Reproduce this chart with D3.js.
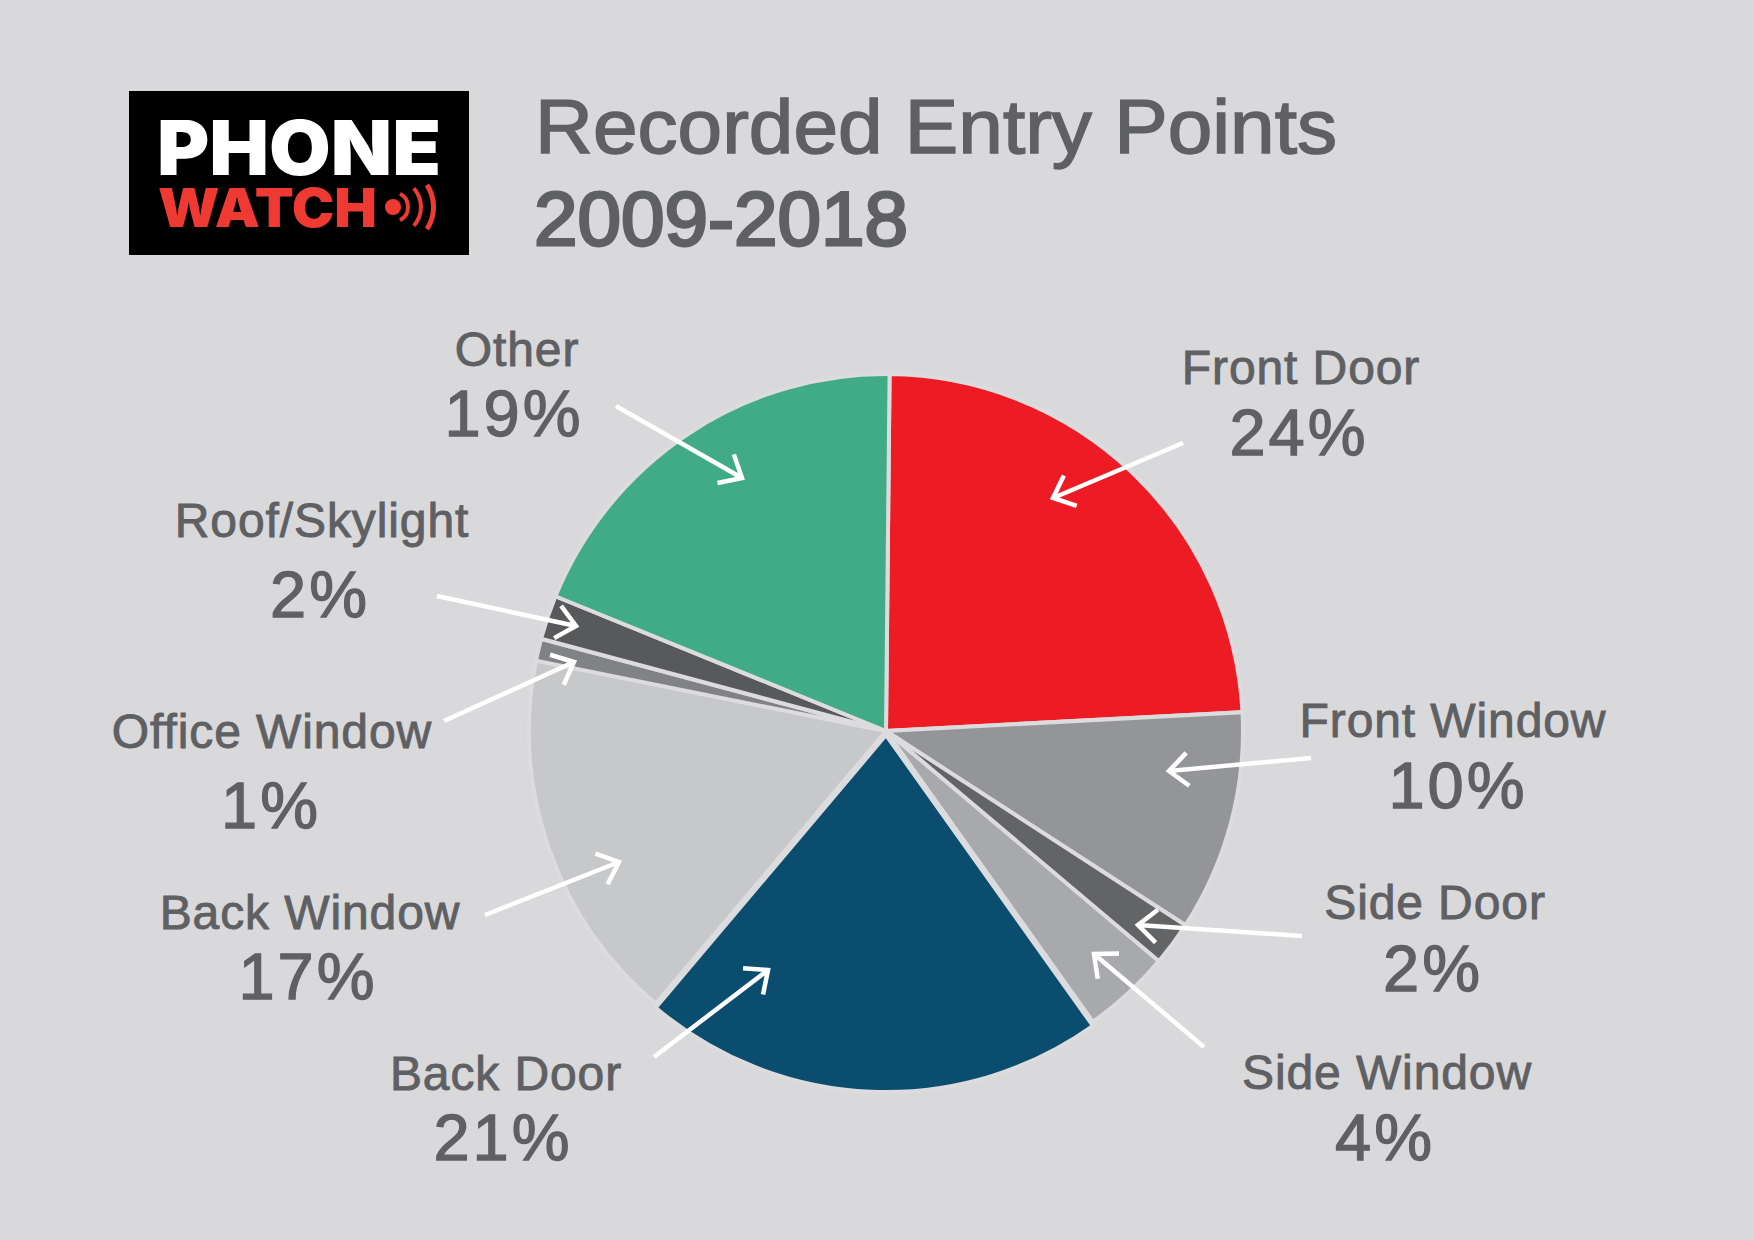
<!DOCTYPE html>
<html>
<head>
<meta charset="utf-8">
<script src="https://cdn.jsdelivr.net/npm/d3@7"></script>
<style>
  html, body { margin: 0; padding: 0; background: #d9d8da; }
  svg { display: block; }
  text { font-family: "Liberation Sans", Arial, sans-serif; fill: #5f6063; }
</style>
</head>
<body>
<svg id="chart" width="1754" height="1240"></svg>
<script>
const categories = ['Front Door', 'Front Window', 'Side Door', 'Side Window', 'Back Door', 'Back Window', 'Office Window', 'Roof/Skylight', 'Other'];
const shares = [24, 10, 2, 4, 21, 17, 1, 2, 19];
const colors = ['#ed1c24', '#939598', '#636466', '#a7a9ac', '#0a4d6e', '#c7c8ca', '#808285', '#58595b', '#41ab87'];

// label layout, same order as categories: [name x, name y, pct x, pct y]
const labelSpots = [
  [1301, 384, 1299, 455],
  [1453, 737, 1458, 808],
  [1435, 919, 1433, 991],
  [1387, 1089, 1385, 1160],
  [506, 1090, 503, 1160],
  [310, 929, 308, 999],
  [272, 748, 271, 828],
  [322, 537, 320, 617],
  [517, 366, 514, 436]
];
// arrows, same order: [from x, from y, tip x, tip y]
const arrowSpots = [
  [1183, 443, 1053, 498],
  [1311, 758, 1169, 771],
  [1302, 936, 1138, 925],
  [1204, 1047, 1094, 954],
  [654, 1057, 768, 970],
  [485, 915, 619, 862],
  [444, 721, 574, 662],
  [437, 596, 576, 626],
  [616, 406, 742, 478]
];

const svg = d3.select('#chart');
const cx = 886, cy = 731, radius = 357;

svg.append('rect').attr('width', 1754).attr('height', 1240).attr('fill', '#d9d8da');

// logo
const logo = svg.append('g');
logo.append('rect').attr('x', 129).attr('y', 91).attr('width', 340).attr('height', 164).attr('fill', '#000');
const logoText = logo.append('text')
  .style('font-family', 'Inter, "Liberation Sans", sans-serif')
  .style('font-weight', 900);
logoText.append('tspan').text('PHONE')
  .attr('x', 157).attr('y', 175)
  .attr('textLength', 284).attr('lengthAdjust', 'spacingAndGlyphs')
  .style('font-size', '76px').style('fill', '#fff');
logoText.append('tspan').text('WATCH')
  .attr('x', 158).attr('y', 227)
  .attr('textLength', 219).attr('lengthAdjust', 'spacingAndGlyphs')
  .style('font-size', '54px').style('fill', '#ef3a33');
logo.append('circle').attr('cx', 393).attr('cy', 207).attr('r', 8).attr('fill', '#ef3a33');
const waves = [[13, 17, 62], [26, 30, 42], [38, 43, 33]];
waves.forEach(w => {
  logo.append('path')
    .attr('transform', 'translate(393,207)')
    .attr('fill', '#ef3a33')
    .attr('d', d3.arc()({
      innerRadius: w[0],
      outerRadius: w[1],
      startAngle: (90 - w[2]) * Math.PI / 180,
      endAngle: (90 + w[2]) * Math.PI / 180
    }));
});

// title
svg.append('text').text('Recorded Entry Points')
  .attr('x', 535).attr('y', 153)
  .attr('textLength', 802).attr('lengthAdjust', 'spacingAndGlyphs')
  .style('font-size', '76px').style('stroke', '#5f6063').style('stroke-width', 1.5);
svg.append('text').text('2009-2018')
  .attr('x', 534).attr('y', 245)
  .attr('textLength', 374).attr('lengthAdjust', 'spacingAndGlyphs')
  .style('font-size', '76px').style('stroke', '#5f6063').style('stroke-width', 2.8);

// pie, the back door slice sits a little lower than the rest in the original
const pie = d3.pie().sort(null).startAngle(0.01).endAngle(2 * Math.PI + 0.01);
const arc = d3.arc().innerRadius(0).outerRadius(radius);

svg.append('g')
  .attr('transform', `translate(${cx},${cy})`)
  .selectAll('path')
  .data(pie(shares))
  .join('path')
  .attr('d', arc)
  .attr('transform', (d, i) => categories[i] === 'Back Door' ? 'translate(0,4)' : null)
  .attr('fill', (d, i) => colors[i])
  .attr('stroke', '#dcdbdd')
  .attr('stroke-width', 4);

// labels
const labels = svg.append('g').attr('text-anchor', 'middle');
categories.forEach((name, i) => {
  const s = labelSpots[i];
  labels.append('text').text(name)
    .attr('x', s[0]).attr('y', s[1])
    .style('font-size', '48px').style('letter-spacing', '0.9px')
    .style('stroke', '#5f6063').style('stroke-width', 0.9);
  labels.append('text').text(shares[i] + '%')
    .attr('x', s[2]).attr('y', s[3])
    .style('font-size', '65px').style('letter-spacing', '3px')
    .style('stroke', '#5f6063').style('stroke-width', 1.3);
});

// arrows
function arrowPath(a) {
  const angle = Math.atan2(a[1] - a[3], a[0] - a[2]);
  const head = 25, spread = 0.72;
  const p = d3.path();
  p.moveTo(a[0], a[1]);
  p.lineTo(a[2], a[3]);
  p.moveTo(a[2] + head * Math.cos(angle + spread), a[3] + head * Math.sin(angle + spread));
  p.lineTo(a[2], a[3]);
  p.lineTo(a[2] + head * Math.cos(angle - spread), a[3] + head * Math.sin(angle - spread));
  return p.toString();
}

svg.append('g')
  .selectAll('path')
  .data(arrowSpots)
  .join('path')
  .attr('d', arrowPath)
  .attr('fill', 'none')
  .attr('stroke', '#fff')
  .attr('stroke-width', 4.5);
</script>
</body>
</html>
